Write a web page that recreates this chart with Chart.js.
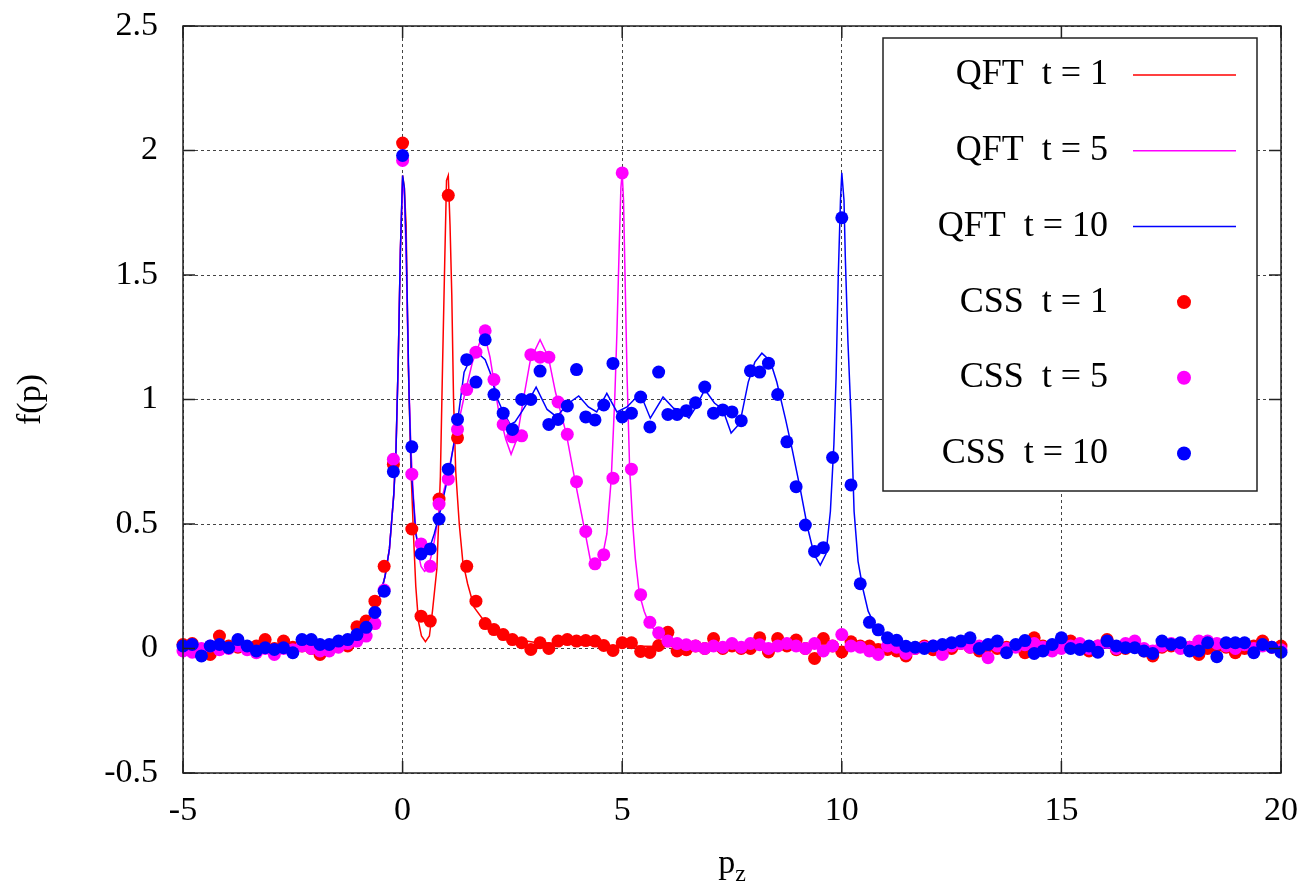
<!DOCTYPE html>
<html>
<head>
<meta charset="utf-8">
<title>f(p)</title>
<script src="https://cdn.jsdelivr.net/npm/chart.js@4.4.1/dist/chart.umd.min.js"></script>
<style>
  html, body { margin: 0; padding: 0; background: #fff; }
  canvas { display: block; }
</style>
</head>
<body>
<canvas id="chart" width="1307" height="891"></canvas>
<script>
const serif = "'Liberation Serif', 'DejaVu Serif', serif";

const seriesLabels = ["QFT  t = 1", "QFT  t = 5", "QFT  t = 10", "CSS  t = 1", "CSS  t = 5", "CSS  t = 10"];
const seriesColors = ["#ff0000", "#ff00ff", "#0000ff"];

const xTicks = [-5, 0, 5, 10, 15, 20];
const xTickLabels = ["-5", "0", "5", "10", "15", "20"];
const yTicks = [-0.5, 0, 0.5, 1, 1.5, 2, 2.5];
const yTickLabels = ["-0.5", "0", "0.5", "1", "1.5", "2", "2.5"];

// QFT curves
const qft1X = [-5, -4, -3, -2.5, -2, -1.5, -1.2, -1.0, -0.8, -0.6, -0.5, -0.4, -0.3, -0.2, -0.15, -0.1, -0.05, 0,
  0.04, 0.08, 0.13, 0.19, 0.25, 0.30, 0.36, 0.43, 0.52, 0.61, 0.68, 0.78, 0.86, 0.91, 0.96, 1.0, 1.04, 1.08,
  1.12, 1.16, 1.21, 1.29, 1.37, 1.48, 1.63, 1.86, 2.16, 2.62, 3.0, 3.5, 4, 5, 6, 8, 10, 12, 14, 16, 18, 20];
const qft1Y = [0.01, 0.01, 0.012, 0.015, 0.02, 0.03, 0.05, 0.075, 0.11, 0.17, 0.22, 0.29, 0.4, 0.62, 0.8, 1.15, 1.6, 1.9,
  1.85, 1.70, 1.14, 0.72, 0.45, 0.25, 0.11, 0.05, 0.027, 0.05, 0.15, 0.32, 0.69, 1.14, 1.56, 1.88, 1.9, 1.70,
  1.42, 1.0, 0.71, 0.50, 0.35, 0.26, 0.165, 0.11, 0.066, 0.035, 0.025, 0.02, 0.015, 0.01, 0.008, 0.005, 0.003, 0.002, 0.002, 0.001, 0.001, 0.001];

const qft5X = [-5, -4, -3, -2.5, -2, -1.5, -1.2, -1.0, -0.8, -0.6, -0.5, -0.4, -0.3, -0.2, -0.15, -0.1, -0.05, 0,
  0.04, 0.08, 0.13, 0.19, 0.25, 0.30, 0.36, 0.42, 0.50, 0.57, 0.65, 0.72, 0.86, 1.02, 1.21, 1.4, 1.59, 1.78, 1.86,
  1.99, 2.18, 2.35, 2.47, 2.6, 2.75, 2.91, 3.13, 3.32, 3.48, 3.73, 3.93, 4.14, 4.27, 4.39, 4.54, 4.65, 4.75, 4.83,
  4.88, 4.93, 4.97, 5.0, 5.03, 5.07, 5.11, 5.17, 5.24, 5.3, 5.39, 5.5, 5.6, 5.8, 6.0, 6.5, 7, 8, 10, 12, 14, 16, 18, 20];
const qft5Y = [0.01, 0.01, 0.012, 0.015, 0.02, 0.03, 0.05, 0.075, 0.11, 0.17, 0.22, 0.29, 0.4, 0.62, 0.8, 1.15, 1.6, 1.88,
  1.82, 1.58, 1.14, 0.8, 0.6, 0.48, 0.38, 0.33, 0.31, 0.32, 0.37, 0.43, 0.58, 0.69, 0.855, 1.01, 1.15, 1.24, 1.265,
  1.17, 0.96, 0.84, 0.78, 0.84, 1.0, 1.16, 1.24, 1.17, 1.03, 0.86, 0.67, 0.48, 0.36, 0.33, 0.36, 0.46, 0.68, 1.0,
  1.27, 1.6, 1.85, 1.91, 1.8, 1.45, 1.1, 0.72, 0.5, 0.36, 0.22, 0.15, 0.105, 0.06, 0.04, 0.022, 0.015, 0.01, 0.006, 0.004, 0.003, 0.002, 0.002, 0.001];

const qft10X = [-5, -4, -3, -2.5, -2, -1.5, -1.2, -1.0, -0.8, -0.6, -0.5, -0.4, -0.3, -0.2, -0.15, -0.1, -0.05, 0,
  0.04, 0.08, 0.15, 0.2, 0.3, 0.43, 0.57, 0.72, 0.87, 1.06, 1.25, 1.4, 1.56, 1.69, 1.88, 1.99, 2.14, 2.29, 2.45,
  2.56, 2.71, 2.87, 3.04, 3.29, 3.51, 3.74, 4.01, 4.23, 4.42, 4.65, 4.88, 5.11, 5.41, 5.64, 5.93, 6.17, 6.29, 6.52,
  6.68, 6.88, 7.1, 7.29, 7.48, 7.68, 7.87, 8.02, 8.18, 8.37, 8.52, 8.72, 8.87, 9.06, 9.22, 9.37, 9.51, 9.64, 9.74,
  9.82, 9.87, 9.92, 9.97, 10.0, 10.05, 10.08, 10.14, 10.22, 10.28, 10.37, 10.48, 10.6, 10.75, 10.9, 11.1, 11.3,
  11.6, 12, 13, 14, 16, 18, 20];
const qft10Y = [0.01, 0.01, 0.012, 0.015, 0.02, 0.03, 0.05, 0.075, 0.11, 0.17, 0.22, 0.29, 0.4, 0.62, 0.8, 1.15, 1.6, 1.9,
  1.85, 1.63, 1.0, 0.71, 0.46, 0.36, 0.38, 0.46, 0.56, 0.71, 0.91, 1.11, 1.17, 1.19, 1.16, 1.11, 1.01, 0.95, 0.90,
  0.91, 0.95, 0.995, 1.05, 0.96, 0.93, 0.98, 1.014, 0.97, 0.95, 1.025, 0.95, 0.97, 1.025, 0.925, 1.01, 0.965, 0.96, 0.925,
  0.97, 1.04, 0.986, 0.96, 0.865, 0.905, 1.07, 1.15, 1.186, 1.155, 1.07, 0.92, 0.80, 0.635, 0.486, 0.378, 0.335, 0.38, 0.55,
  0.82, 1.09, 1.5, 1.8, 1.91, 1.8, 1.57, 1.23, 0.89, 0.55, 0.35, 0.24, 0.15, 0.095, 0.06, 0.04, 0.03,
  0.02, 0.012, 0.006, 0.004, 0.002, 0.001, 0.001];

// CSS samples
const cssX = [
  -5.00, -4.79, -4.58, -4.38, -4.17, -3.96, -3.75, -3.54, -3.33, -3.13,
  -2.92, -2.71, -2.50, -2.29, -2.08, -1.88, -1.67, -1.46, -1.25, -1.04,
  -0.83, -0.63, -0.42, -0.21, 0.00, 0.21, 0.42, 0.63, 0.83, 1.04,
  1.25, 1.46, 1.67, 1.88, 2.08, 2.29, 2.50, 2.71, 2.92, 3.13,
  3.33, 3.54, 3.75, 3.96, 4.17, 4.38, 4.58, 4.79, 5.00, 5.21,
  5.42, 5.63, 5.83, 6.04, 6.25, 6.46, 6.67, 6.88, 7.08, 7.29,
  7.50, 7.71, 7.92, 8.13, 8.33, 8.54, 8.75, 8.96, 9.17, 9.38,
  9.58, 9.79, 10.00, 10.21, 10.42, 10.63, 10.83, 11.04, 11.25, 11.46,
  11.67, 11.88, 12.08, 12.29, 12.50, 12.71, 12.92, 13.13, 13.33, 13.54,
  13.75, 13.96, 14.17, 14.38, 14.58, 14.79, 15.00, 15.21, 15.42, 15.63,
  15.83, 16.04, 16.25, 16.46, 16.67, 16.88, 17.08, 17.29, 17.50, 17.71,
  17.92, 18.13, 18.33, 18.54, 18.75, 18.96, 19.17, 19.38, 19.58, 19.79,
  20.00];
const css1Y = [
  0.016, 0.02, -0.01, -0.024, 0.05, 0.01, 0.005, 0.0, 0.01, 0.036,
  0.0, 0.03, 0.005, 0.01, 0.0, -0.024, 0.0, 0.02, 0.01, 0.087,
  0.11, 0.19, 0.33, 0.74, 2.03, 0.48, 0.13, 0.11, 0.6, 1.82,
  0.846, 0.33, 0.19, 0.10, 0.076, 0.056, 0.036, 0.023, -0.004, 0.023,
  0.0, 0.03, 0.036, 0.03, 0.032, 0.03, 0.012, -0.008, 0.023, 0.023,
  -0.012, -0.016, 0.012, 0.065, -0.01, -0.005, 0.01, 0.0, 0.04, 0.0,
  0.01, 0.0, 0.0, 0.043, -0.014, 0.04, 0.01, 0.034, 0.0, -0.04,
  0.04, 0.01, -0.014, 0.027, 0.01, 0.01, -0.004, -0.004, -0.01, -0.03,
  0.0, 0.01, -0.005, 0.01, 0.0, 0.02, 0.005, -0.01, 0.01, 0.0,
  0.005, 0.01, -0.017, 0.043, 0.01, 0.0, 0.02, 0.03, 0.0, -0.01,
  0.01, 0.036, -0.005, 0.0, 0.01, -0.01, -0.03, 0.005, 0.01, 0.016,
  0.005, -0.024, 0.0, 0.01, 0.005, -0.017, 0.0, 0.01, 0.03, 0.005,
  0.01];
const css5Y = [
  -0.01, -0.015, 0.0, 0.01, -0.005, 0.0, 0.01, -0.005, -0.017, 0.0,
  -0.024, 0.0, -0.005, 0.01, 0.0, -0.01, -0.01, 0.005, 0.02, 0.03,
  0.05, 0.10, 0.235, 0.76, 1.96, 0.70, 0.42, 0.33, 0.58, 0.68,
  0.88, 1.04, 1.19, 1.276, 1.08, 0.90, 0.85, 0.854, 1.18, 1.17,
  1.17, 0.99, 0.86, 0.67, 0.47, 0.34, 0.377, 0.684, 1.91, 0.72,
  0.216, 0.105, 0.063, 0.03, 0.02, 0.015, 0.01, 0.0, 0.01, 0.005,
  0.02, 0.005, 0.02, 0.015, 0.0, 0.01, 0.02, 0.01, 0.0, 0.02,
  -0.01, 0.01, 0.056, 0.01, 0.005, -0.01, -0.024, 0.01, 0.005, -0.02,
  0.0, 0.005, 0.01, -0.024, 0.01, 0.02, 0.005, 0.01, -0.037, 0.01,
  0.0, 0.005, 0.015, 0.02, 0.005, -0.01, 0.0, 0.01, 0.02, 0.0,
  0.01, 0.025, 0.0, 0.02, 0.03, 0.0, -0.01, 0.01, 0.02, 0.0,
  0.005, 0.03, 0.03, 0.02, 0.01, 0.0, 0.015, 0.0, 0.01, 0.005,
  -0.005];
const css10Y = [
  0.01, 0.016, -0.03, 0.01, 0.016, 0.003, 0.036, 0.01, -0.01, 0.003,
  -0.004, 0.003, -0.017, 0.036, 0.036, 0.016, 0.016, 0.03, 0.036, 0.056,
  0.085, 0.145, 0.23, 0.71, 1.98, 0.81, 0.38, 0.40, 0.52, 0.72,
  0.92, 1.16, 1.07, 1.24, 1.02, 0.945, 0.88, 1.00, 1.00, 1.114,
  0.90, 0.92, 0.974, 1.12, 0.93, 0.918, 0.978, 1.145, 0.93, 0.945,
  1.01, 0.89, 1.11, 0.94, 0.94, 0.955, 0.987, 1.05, 0.945, 0.958,
  0.95, 0.915, 1.115, 1.11, 1.146, 1.02, 0.83, 0.65, 0.496, 0.39,
  0.405, 0.767, 1.73, 0.657, 0.26, 0.105, 0.075, 0.043, 0.033, 0.009,
  0.005, 0.0, 0.01, 0.016, 0.023, 0.03, 0.043, 0.0, 0.016, 0.03,
  -0.017, 0.016, 0.032, -0.02, -0.01, 0.016, 0.043, 0.0, -0.004, 0.01,
  -0.015, 0.03, 0.01, 0.003, 0.003, -0.01, -0.02, 0.03, 0.016, 0.023,
  -0.01, -0.01, 0.023, -0.033, 0.023, 0.023, 0.023, -0.017, 0.016, 0.005,
  -0.015];

const pts = (xs, ys) => xs.map((x, i) => ({ x, y: ys[i] }));

function curve(label, color, xs, ys) {
  return {
    label, data: pts(xs, ys), showLine: true,
    borderColor: color, borderWidth: 1.5, pointRadius: 0, tension: 0
  };
}
function dots(label, color, ys) {
  return {
    label, data: pts(cssX, ys), showLine: false, clip: false,
    backgroundColor: color, borderWidth: 0, pointRadius: 6.5, pointStyle: "circle"
  };
}

// first dataset is painted last, so the dots sit on top of the curves
const datasets = [
  dots(seriesLabels[5], seriesColors[2], css10Y),
  dots(seriesLabels[4], seriesColors[1], css5Y),
  dots(seriesLabels[3], seriesColors[0], css1Y),
  curve(seriesLabels[2], seriesColors[2], qft10X, qft10Y),
  curve(seriesLabels[1], seriesColors[1], qft5X, qft5Y),
  curve(seriesLabels[0], seriesColors[0], qft1X, qft1Y)
];

const frame = {
  id: "frame",
  afterDatasetsDraw(chart) {
    const { ctx, chartArea: a, scales: { x, y } } = chart;
    ctx.save();
    ctx.strokeStyle = "#222";
    ctx.lineWidth = 1.5;
    ctx.beginPath();
    xTicks.forEach(v => {
      const px = x.getPixelForValue(v);
      ctx.moveTo(px, a.bottom); ctx.lineTo(px, a.bottom - 12);
      ctx.moveTo(px, a.top); ctx.lineTo(px, a.top + 12);
    });
    yTicks.forEach(v => {
      const py = y.getPixelForValue(v);
      ctx.moveTo(a.left, py); ctx.lineTo(a.left + 12, py);
      ctx.moveTo(a.right, py); ctx.lineTo(a.right - 12, py);
    });
    ctx.stroke();
    ctx.strokeRect(a.left, a.top, a.right - a.left, a.bottom - a.top);
    ctx.restore();
  },
  afterDraw(chart) {
    const { ctx, chartArea: a } = chart;
    ctx.save();

    // key box, top right
    const bx = a.right - 398, by = a.top + 12, bw = 374, bh = 453;
    ctx.fillStyle = "#fff";
    ctx.fillRect(bx, by, bw, bh);
    ctx.strokeStyle = "#222";
    ctx.lineWidth = 1.5;
    ctx.strokeRect(bx, by, bw, bh);
    ctx.font = "36px " + serif;
    ctx.textAlign = "right";
    ctx.textBaseline = "middle";
    seriesLabels.forEach((label, i) => {
      const ry = by + 37 + i * 75.7;
      const color = seriesColors[i % 3];
      ctx.fillStyle = "#000";
      ctx.fillText(label, bx + 225, ry);
      if (i < 3) {
        ctx.strokeStyle = color;
        ctx.lineWidth = 1.5;
        ctx.beginPath();
        ctx.moveTo(bx + 250, ry); ctx.lineTo(bx + 353, ry);
        ctx.stroke();
      } else {
        ctx.fillStyle = color;
        ctx.beginPath();
        ctx.arc(bx + 301, ry, 7, 0, Math.PI * 2);
        ctx.fill();
      }
    });

    // axis titles
    ctx.fillStyle = "#000";
    ctx.font = "34px " + serif;
    ctx.textAlign = "center";
    ctx.textBaseline = "middle";
    ctx.save();
    ctx.translate(31, (a.top + a.bottom) / 2);
    ctx.rotate(-Math.PI / 2);
    ctx.fillText("f(p)", 0, 0);
    ctx.restore();

    const cx = (a.left + a.right) / 2;
    ctx.textAlign = "left";
    ctx.textBaseline = "alphabetic";
    ctx.font = "34px " + serif;
    const wp = ctx.measureText("p").width;
    ctx.font = "24px " + serif;
    const wz = ctx.measureText("z").width;
    const x0 = cx - (wp + wz) / 2;
    ctx.font = "34px " + serif;
    ctx.fillText("p", x0, 873);
    ctx.font = "24px " + serif;
    ctx.fillText("z", x0 + wp, 881);
    ctx.restore();
  }
};

new Chart(document.getElementById("chart"), {
  type: "scatter",
  data: { datasets },
  options: {
    responsive: false,
    animation: false,
    events: [],
    layout: { padding: { top: 26, right: 26, left: 0, bottom: 0 } },
    plugins: { legend: { display: false }, tooltip: { enabled: false } },
    scales: {
      x: {
        type: "linear", min: -5, max: 20,
        afterBuildTicks: s => { s.ticks = xTicks.map(v => ({ value: v })); },
        afterFit: s => { s.height = 118; s.paddingLeft = 0; s.paddingRight = 0; },
        grid: { color: "#444", lineWidth: 1, drawTicks: false },
        border: { display: false, dash: [3, 3] },
        ticks: {
          color: "#000", font: { family: serif, size: 34 }, padding: 18,
          maxRotation: 0, autoSkip: false,
          callback: (v, i) => xTickLabels[i]
        }
      },
      y: {
        type: "linear", min: -0.5, max: 2.5,
        afterBuildTicks: s => { s.ticks = yTicks.map(v => ({ value: v })); },
        afterFit: s => { s.width = 183; s.paddingTop = 0; s.paddingBottom = 0; },
        grid: { color: "#444", lineWidth: 1, drawTicks: false },
        border: { display: false, dash: [3, 3] },
        ticks: {
          color: "#000", font: { family: serif, size: 34 }, padding: 25,
          autoSkip: false,
          callback: (v, i) => yTickLabels[i]
        }
      }
    }
  },
  plugins: [frame]
});
</script>
</body>
</html>
